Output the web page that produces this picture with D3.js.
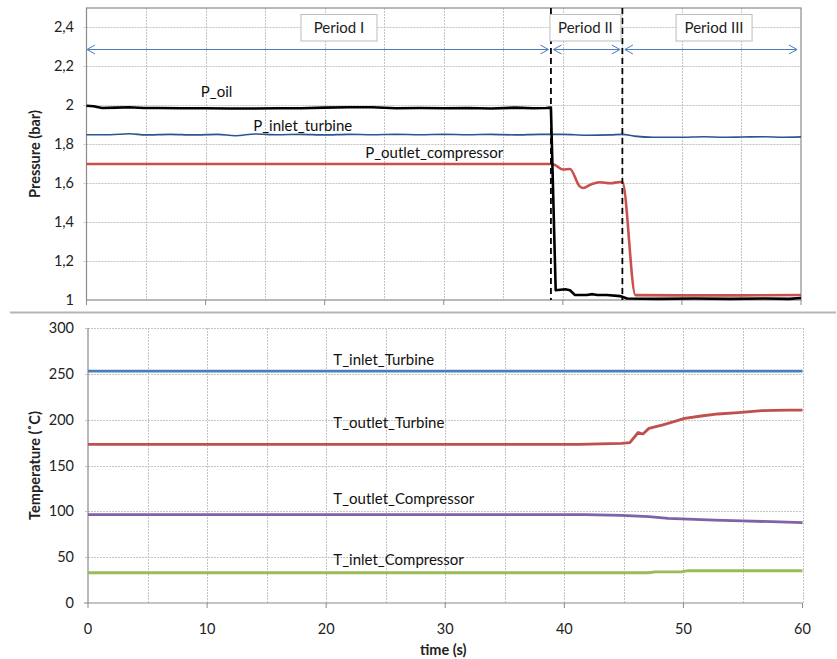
<!DOCTYPE html>
<html>
<head>
<meta charset="utf-8">
<script src="https://cdn.jsdelivr.net/npm/d3@7"></script>
<style>
  html, body { margin: 0; padding: 0; background: #fff; }
  svg { display: block; font-family: Lato, "Open Sans", sans-serif; }
</style>
</head>
<body>
<svg id="chart" width="837" height="659"></svg>
<script>
// ---- Pressure traces (bar) ----
const pOilTime  = [0, 0.6, 1.3, 2.5, 3.6, 4.8, 6, 8, 10, 12, 14, 16, 18, 20, 22, 24, 26, 28, 30, 32, 34, 36, 37.5, 38.6, 39.0, 39.4, 40.2, 40.6, 41.0, 42.0, 42.5, 42.9, 43.7, 44.8, 45.4, 48, 51, 54, 57, 59, 60];
const pOilValue = [1.998, 1.995, 1.986, 1.988, 1.99, 1.986, 1.986, 1.985, 1.985, 1.984, 1.984, 1.985, 1.985, 1.988, 1.99, 1.99, 1.985, 1.986, 1.985, 1.986, 1.984, 1.988, 1.985, 1.986, 1.988, 1.05, 1.055, 1.05, 1.026, 1.026, 1.03, 1.026, 1.026, 1.02, 1.008, 1.006, 1.008, 1.006, 1.008, 1.006, 1.01];

const pInTime  = [0, 2, 3.6, 5, 7, 9, 11, 12.5, 14.2, 16, 18, 20, 22, 24, 26, 28, 30, 32, 34, 36, 38, 40, 42, 44, 45, 46, 47.6, 49.8, 51.8, 53.5, 55, 56.9, 58.5, 60];
const pInValue = [1.849, 1.849, 1.854, 1.848, 1.851, 1.848, 1.851, 1.844, 1.853, 1.849, 1.851, 1.848, 1.851, 1.849, 1.851, 1.849, 1.851, 1.849, 1.851, 1.848, 1.851, 1.851, 1.846, 1.848, 1.851, 1.842, 1.836, 1.836, 1.839, 1.836, 1.837, 1.839, 1.836, 1.838];

const pOutTime  = [0, 39.0, 39.3, 40.0, 40.6, 41.4, 41.7, 42.4, 43.1, 44.0, 44.8, 45.0, 46.1, 50, 55, 60];
const pOutValue = [1.699, 1.699, 1.695, 1.67, 1.673, 1.585, 1.575, 1.595, 1.605, 1.6, 1.606, 1.606, 1.025, 1.024, 1.024, 1.026];

// ---- Temperature traces (°C) ----
const tInTurbTime  = [0, 60];
const tInTurbValue = [253, 253];

const tOutTurbTime  = [0, 41.2, 44.8, 45.5, 46.2, 46.6, 47.1, 48.2, 49.2, 50.1, 51.5, 52.9, 54.6, 56.6, 58.8, 60];
const tOutTurbValue = [173, 173, 174.2, 175, 186, 184.4, 190.5, 194, 197.8, 201.4, 204, 206.2, 207.6, 209.8, 210.5, 210.5];

const tOutCompTime  = [0, 41.7, 44.8, 47.1, 48.7, 50.4, 52.6, 54.9, 57.4, 60];
const tOutCompValue = [96.4, 96.4, 95.6, 94.2, 92.4, 91.6, 90.5, 89.5, 88.7, 87.6];

const tInCompTime  = [0, 47.1, 47.6, 49.8, 50.4, 60];
const tInCompValue = [33, 33, 34, 34, 35.2, 35.2];

// ---- Axis ticks ----
const timeTicks     = [0, 10, 20, 30, 40, 50, 60];
const timeGrid      = [5, 10, 15, 20, 25, 30, 35, 40, 45, 50, 55, 60];
const pressureTicks = [1, 1.2, 1.4, 1.6, 1.8, 2, 2.2, 2.4];
const pressureLabels = ["1", "1,2", "1,4", "1,6", "1,8", "2", "2,2", "2,4"];
const tempTicks     = [0, 50, 100, 150, 200, 250, 300];

// ---- Test periods ----
const periodNames  = ["Period I", "Period II", "Period III"];
const periodStart  = [0, 39, 45];
const periodEnd    = [39, 45, 60];
const periodCenter = [21.2, 41.9, 52.7];
const periodBoxW   = [76, 71, 76];
const periodBounds = [39, 45];

// ---- Series labels ----
const pLabels = [
  { text: "P_oil", t: 9.6, v: 2.043 },
  { text: "P_inlet_turbine", t: 14.0, v: 1.868 },
  { text: "P_outlet_compressor", t: 23.4, v: 1.729 }
];
const tLabels = [
  { text: "T_inlet_Turbine", t: 20.6, v: 260 },
  { text: "T_outlet_Turbine", t: 20.6, v: 191 },
  { text: "T_outlet_Compressor", t: 20.6, v: 108 },
  { text: "T_inlet_Compressor", t: 20.6, v: 42 }
];

const svg = d3.select("#chart");
const gridColor = "#c4c4c4";
const axisColor = "#8a8a8a";
const labelSize = 15;
const tickSize = 14.5;
const titleSize = 14.5;
const zip = (a, b) => a.map((t, i) => [t, b[i]]);

// ---------- Top panel: pressure ----------
const xTop = d3.scaleLinear().domain([0, 60]).range([86.5, 801]);
const yTop = d3.scaleLinear().domain([1, 2.5]).range([300, 8]);

const pPanel = svg.append("g");

pPanel.selectAll("line.hgrid").data(pressureTicks.slice(1)).join("line")
  .attr("x1", xTop(0) - 3).attr("x2", xTop(60))
  .attr("y1", d => Math.round(yTop(d)) + 0.5).attr("y2", d => Math.round(yTop(d)) + 0.5)
  .attr("stroke", gridColor).attr("stroke-dasharray", "2,1");
pPanel.selectAll("line.vgrid").data(timeGrid.slice(0, -1)).join("line")
  .attr("x1", d => Math.round(xTop(d)) + 0.5).attr("x2", d => Math.round(xTop(d)) + 0.5)
  .attr("y1", yTop(2.5)).attr("y2", yTop(1))
  .attr("stroke", gridColor).attr("stroke-dasharray", "2,1");

// frame
pPanel.append("rect")
  .attr("x", xTop(0)).attr("y", yTop(2.5))
  .attr("width", xTop(60) - xTop(0)).attr("height", yTop(1) - yTop(2.5))
  .attr("fill", "none").attr("stroke", axisColor).attr("stroke-width", 1.2);

// x ticks (no labels on the pressure panel)
pPanel.selectAll("line.xtick").data(timeTicks).join("line")
  .attr("x1", d => xTop(d)).attr("x2", d => xTop(d))
  .attr("y1", yTop(1)).attr("y2", yTop(1) + 5)
  .attr("stroke", axisColor);

pPanel.selectAll("text.ytick").data(pressureTicks).join("text")
  .attr("x", 74).attr("y", d => yTop(d) + 5)
  .attr("text-anchor", "end").attr("font-size", tickSize).attr("fill", "#222")
  .text((d, i) => pressureLabels[i]);

pPanel.append("text")
  .attr("transform", `translate(40,${(yTop(1) + yTop(2.5)) / 2}) rotate(-90)`)
  .attr("text-anchor", "middle").attr("font-size", titleSize).attr("font-weight", "bold").attr("fill", "#222")
  .text("Pressure (bar)");

const lineTop = d3.line().x(d => xTop(d[0])).y(d => yTop(d[1])).curve(d3.curveMonotoneX);

pPanel.append("path").datum(zip(pInTime, pInValue)).attr("d", lineTop)
  .attr("fill", "none").attr("stroke", "#2a5590").attr("stroke-width", 1.6);
pPanel.append("path").datum(zip(pOutTime, pOutValue)).attr("d", lineTop)
  .attr("fill", "none").attr("stroke", "#c9504d").attr("stroke-width", 2.6);
pPanel.append("path").datum(zip(pOilTime, pOilValue)).attr("d", d3.line().x(d => xTop(d[0])).y(d => yTop(d[1])))
  .attr("fill", "none").attr("stroke", "#000").attr("stroke-width", 2.6).attr("stroke-linejoin", "round");

// period boundaries
pPanel.selectAll("line.bound").data(periodBounds).join("line")
  .attr("x1", d => xTop(d)).attr("x2", d => xTop(d))
  .attr("y1", yTop(2.5)).attr("y2", yTop(1))
  .attr("stroke", "#000").attr("stroke-width", 1.8).attr("stroke-dasharray", "6,4");

// period arrows and name boxes
const arrowY = 49.5;
const arrowColor = "#4a7ebb";
const arrowInset = [[0.5, 2.5], [2.5, 2.5], [2.5, 4]];
periodNames.forEach((name, i) => {
  const x1 = xTop(periodStart[i]) + arrowInset[i][0];
  const x2 = xTop(periodEnd[i]) - arrowInset[i][1];
  const g = pPanel.append("g").attr("stroke", arrowColor).attr("fill", "none").attr("stroke-width", 1);
  g.append("line").attr("x1", x1).attr("x2", x2).attr("y1", arrowY).attr("y2", arrowY);
  g.append("path").attr("d", `M${x1 + 8},${arrowY - 4.5}L${x1},${arrowY}L${x1 + 8},${arrowY + 4.5}`);
  g.append("path").attr("d", `M${x2 - 8},${arrowY - 4.5}L${x2},${arrowY}L${x2 - 8},${arrowY + 4.5}`);

  const cx = xTop(periodCenter[i]);
  pPanel.append("rect")
    .attr("x", cx - periodBoxW[i] / 2).attr("y", 14.5)
    .attr("width", periodBoxW[i]).attr("height", 26.5)
    .attr("fill", "#fff").attr("stroke", "#bdbdbd").attr("stroke-width", 1);
  pPanel.append("text")
    .attr("x", cx).attr("y", 33)
    .attr("text-anchor", "middle").attr("font-size", labelSize).attr("fill", "#222")
    .text(name);
});

pPanel.selectAll("text.lab").data(pLabels).join("text")
  .attr("x", d => xTop(d.t)).attr("y", d => yTop(d.v))
  .attr("font-size", labelSize).attr("fill", "#111")
  .text(d => d.text);

// separator between the panels
svg.append("line").attr("x1", 10).attr("x2", 836).attr("y1", 312.5).attr("y2", 312.5)
  .attr("stroke", "#b5b5b5").attr("stroke-width", 2);

// ---------- Bottom panel: temperature ----------
const xBot = d3.scaleLinear().domain([0, 60]).range([88, 802.5]);
const yBot = d3.scaleLinear().domain([0, 300]).range([603, 328]);

const tPanel = svg.append("g");

tPanel.selectAll("line.hgrid").data(tempTicks.slice(1)).join("line")
  .attr("x1", xBot(0) - 3).attr("x2", xBot(60))
  .attr("y1", d => Math.round(yBot(d)) + 0.5).attr("y2", d => Math.round(yBot(d)) + 0.5)
  .attr("stroke", gridColor).attr("stroke-dasharray", "2,1");
tPanel.selectAll("line.vgrid").data(timeGrid).join("line")
  .attr("x1", d => Math.round(xBot(d)) + 0.5).attr("x2", d => Math.round(xBot(d)) + 0.5)
  .attr("y1", yBot(300)).attr("y2", yBot(0))
  .attr("stroke", gridColor).attr("stroke-dasharray", "2,1");

tPanel.append("line").attr("x1", xBot(0)).attr("x2", xBot(0)).attr("y1", yBot(300)).attr("y2", yBot(0))
  .attr("stroke", axisColor).attr("stroke-width", 1.2);
tPanel.append("line").attr("x1", xBot(0) - 4).attr("x2", xBot(60)).attr("y1", yBot(0)).attr("y2", yBot(0))
  .attr("stroke", axisColor).attr("stroke-width", 1.2);

tPanel.selectAll("line.xtick").data(timeTicks).join("line")
  .attr("x1", d => xBot(d)).attr("x2", d => xBot(d))
  .attr("y1", yBot(0)).attr("y2", yBot(0) + 5)
  .attr("stroke", axisColor);

tPanel.selectAll("text.xtick").data(timeTicks).join("text")
  .attr("x", d => xBot(d)).attr("y", 634)
  .attr("text-anchor", "middle").attr("font-size", tickSize).attr("fill", "#222")
  .text(d => d);

tPanel.selectAll("text.ytick").data(tempTicks).join("text")
  .attr("x", 74).attr("y", d => yBot(d) + 5)
  .attr("text-anchor", "end").attr("font-size", tickSize).attr("fill", "#222")
  .text(d => d);

tPanel.append("text")
  .attr("transform", `translate(40,${(yBot(0) + yBot(300)) / 2}) rotate(-90)`)
  .attr("text-anchor", "middle").attr("font-size", titleSize).attr("font-weight", "bold").attr("fill", "#222")
  .text("Temperature (˚C)");

tPanel.append("text")
  .attr("x", (xBot(0) + xBot(60)) / 2 - 2).attr("y", 655)
  .attr("text-anchor", "middle").attr("font-size", titleSize).attr("font-weight", "bold").attr("fill", "#222")
  .text("time (s)");

const lineBot = d3.line().x(d => xBot(d[0])).y(d => yBot(d[1]));
const tSeries = [
  [tInTurbTime, tInTurbValue, "#4a7ebb"],
  [tOutTurbTime, tOutTurbValue, "#c0504d"],
  [tOutCompTime, tOutCompValue, "#7f62a8"],
  [tInCompTime, tInCompValue, "#9bbb59"]
];
tSeries.forEach(([t, v, c]) => {
  tPanel.append("path").datum(zip(t, v)).attr("d", lineBot)
    .attr("fill", "none").attr("stroke", c).attr("stroke-width", 2.8).attr("stroke-linejoin", "round");
});

tPanel.selectAll("text.lab").data(tLabels).join("text")
  .attr("x", d => xBot(d.t)).attr("y", d => yBot(d.v))
  .attr("font-size", labelSize).attr("fill", "#111")
  .text(d => d.text);
</script>
</body>
</html>
